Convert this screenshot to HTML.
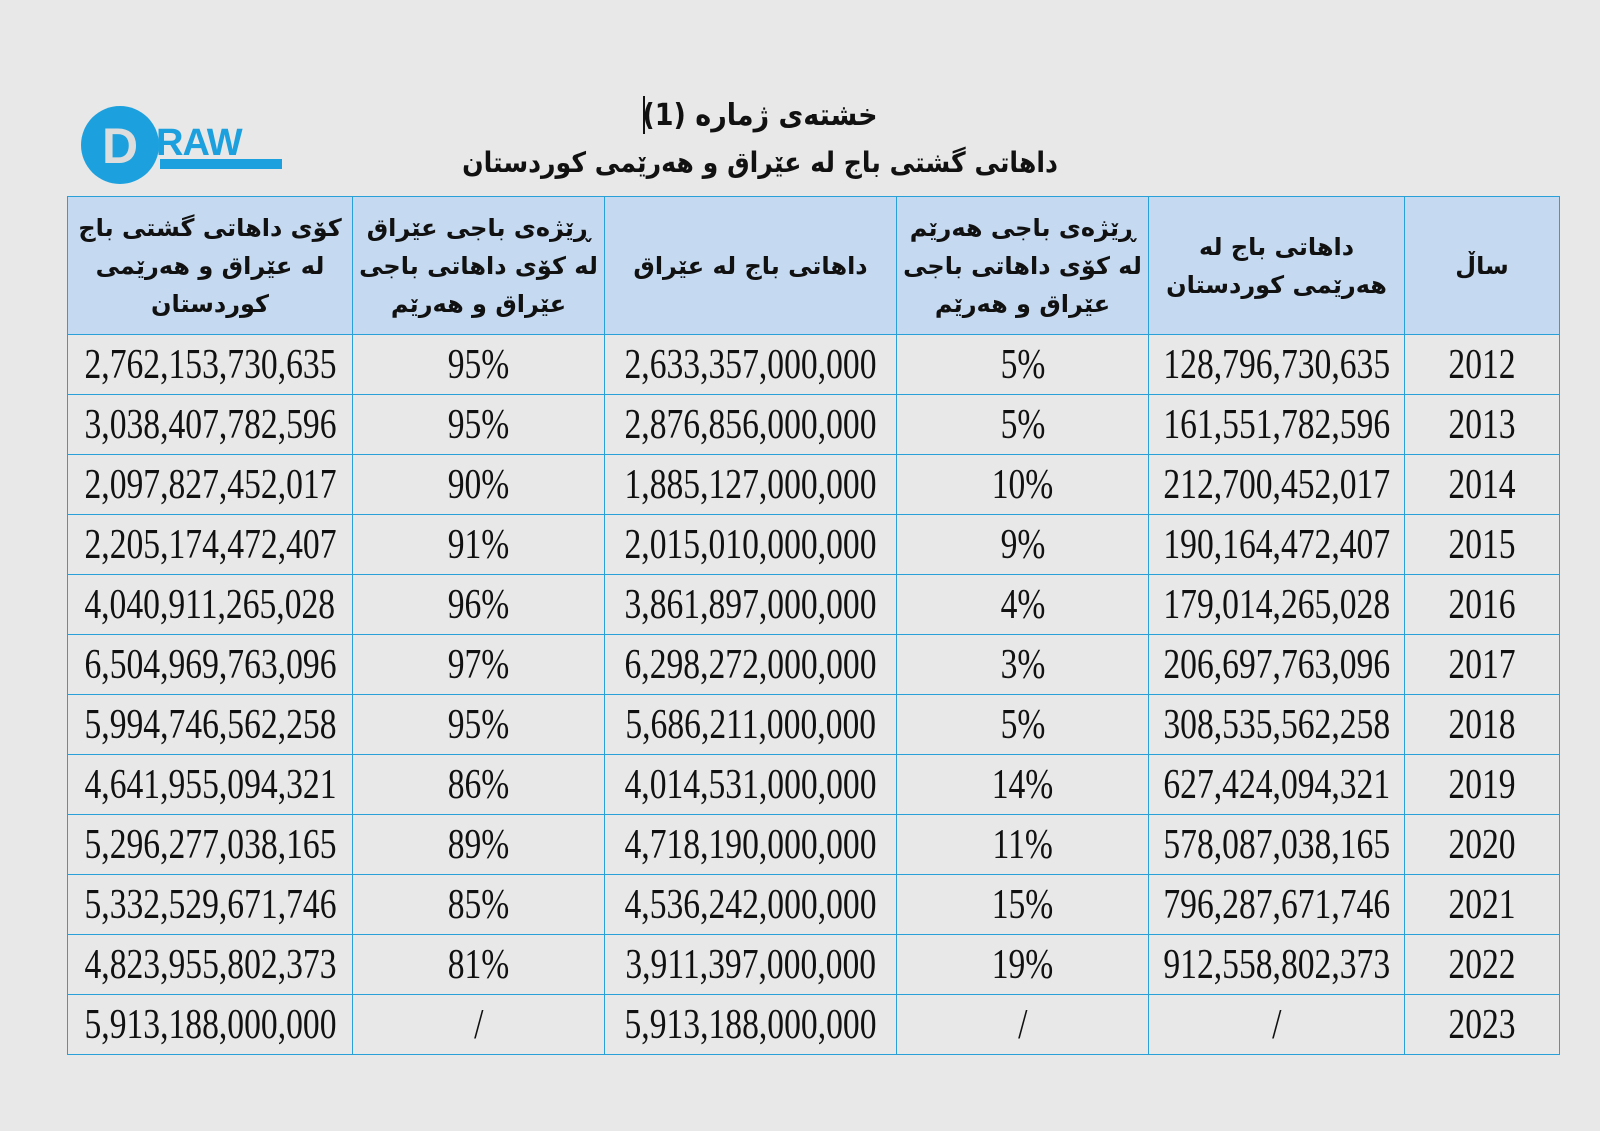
<!DOCTYPE html>
<html><head><meta charset="utf-8"><style>
body{margin:0;width:1600px;height:1131px;background:#e8e8e8;position:relative;overflow:hidden;font-family:"Liberation Serif",serif}
.t{position:absolute;left:0;width:1520px;text-align:center;font-family:"DejaVu Sans","Liberation Sans",sans-serif;font-weight:bold;font-size:28px;color:#111;direction:rtl;transform:scaleX(0.9);transform-origin:760px 0}
table{position:absolute;left:67px;top:196px;width:1492px;border-collapse:collapse;table-layout:fixed}
td{border:1.5px solid #2aa0d8;text-align:center;padding:0;height:59px;font-size:42px;color:#111;overflow:hidden;white-space:nowrap}
td span{display:inline-block;transform:scaleX(0.8);margin:0 -80px}
tr.h td{background:#c5d9f0;height:137px;font-family:"DejaVu Sans",sans-serif;font-weight:bold;font-size:24px;line-height:38px;direction:rtl;white-space:normal}
</style></head><body>
<div style="position:absolute;left:81px;top:106px;width:78px;height:78px;border-radius:50%;background:#1da1de"></div>
<div style="position:absolute;left:102px;top:124px;font:bold 50px 'Liberation Sans',sans-serif;color:#ddd;line-height:44px">D</div>
<div style="position:absolute;left:156px;top:124px;font:bold 38px 'Liberation Sans',sans-serif;color:#1da1de;line-height:38px;letter-spacing:-1px">RAW</div>
<div style="position:absolute;left:160px;top:159px;width:122px;height:10px;background:#1da1de"></div>
<div style="position:absolute;left:643px;top:96px;width:2px;height:38px;background:#111"></div>
<div class="t" style="top:98px;font-size:30px">خشتەی ژمارە (1)</div>
<div class="t" style="top:146px">داهاتی گشتی باج لە عێراق و هەرێمی کوردستان</div>
<table>
<colgroup><col style="width:285px"><col style="width:252px"><col style="width:292px"><col style="width:252px"><col style="width:256px"><col style="width:155px"></colgroup>
<tr class="h"><td>کۆی داهاتی گشتی باج<br>لە عێراق و هەرێمی<br>کوردستان</td><td>ڕێژەی باجی عێراق<br>لە کۆی داهاتی باجی<br>عێراق و هەرێم</td><td>داهاتی باج لە عێراق</td><td>ڕێژەی باجی هەرێم<br>لە کۆی داهاتی باجی<br>عێراق و هەرێم</td><td>داهاتی باج لە<br>هەرێمی کوردستان</td><td>ساڵ</td></tr>
<tr><td><span>2,762,153,730,635</span></td><td><span>95%</span></td><td><span>2,633,357,000,000</span></td><td><span>5%</span></td><td><span>128,796,730,635</span></td><td><span>2012</span></td></tr>
<tr><td><span>3,038,407,782,596</span></td><td><span>95%</span></td><td><span>2,876,856,000,000</span></td><td><span>5%</span></td><td><span>161,551,782,596</span></td><td><span>2013</span></td></tr>
<tr><td><span>2,097,827,452,017</span></td><td><span>90%</span></td><td><span>1,885,127,000,000</span></td><td><span>10%</span></td><td><span>212,700,452,017</span></td><td><span>2014</span></td></tr>
<tr><td><span>2,205,174,472,407</span></td><td><span>91%</span></td><td><span>2,015,010,000,000</span></td><td><span>9%</span></td><td><span>190,164,472,407</span></td><td><span>2015</span></td></tr>
<tr><td><span>4,040,911,265,028</span></td><td><span>96%</span></td><td><span>3,861,897,000,000</span></td><td><span>4%</span></td><td><span>179,014,265,028</span></td><td><span>2016</span></td></tr>
<tr><td><span>6,504,969,763,096</span></td><td><span>97%</span></td><td><span>6,298,272,000,000</span></td><td><span>3%</span></td><td><span>206,697,763,096</span></td><td><span>2017</span></td></tr>
<tr><td><span>5,994,746,562,258</span></td><td><span>95%</span></td><td><span>5,686,211,000,000</span></td><td><span>5%</span></td><td><span>308,535,562,258</span></td><td><span>2018</span></td></tr>
<tr><td><span>4,641,955,094,321</span></td><td><span>86%</span></td><td><span>4,014,531,000,000</span></td><td><span>14%</span></td><td><span>627,424,094,321</span></td><td><span>2019</span></td></tr>
<tr><td><span>5,296,277,038,165</span></td><td><span>89%</span></td><td><span>4,718,190,000,000</span></td><td><span>11%</span></td><td><span>578,087,038,165</span></td><td><span>2020</span></td></tr>
<tr><td><span>5,332,529,671,746</span></td><td><span>85%</span></td><td><span>4,536,242,000,000</span></td><td><span>15%</span></td><td><span>796,287,671,746</span></td><td><span>2021</span></td></tr>
<tr><td><span>4,823,955,802,373</span></td><td><span>81%</span></td><td><span>3,911,397,000,000</span></td><td><span>19%</span></td><td><span>912,558,802,373</span></td><td><span>2022</span></td></tr>
<tr><td><span>5,913,188,000,000</span></td><td><span>/</span></td><td><span>5,913,188,000,000</span></td><td><span>/</span></td><td><span>/</span></td><td><span>2023</span></td></tr>
</table>
</body></html>
